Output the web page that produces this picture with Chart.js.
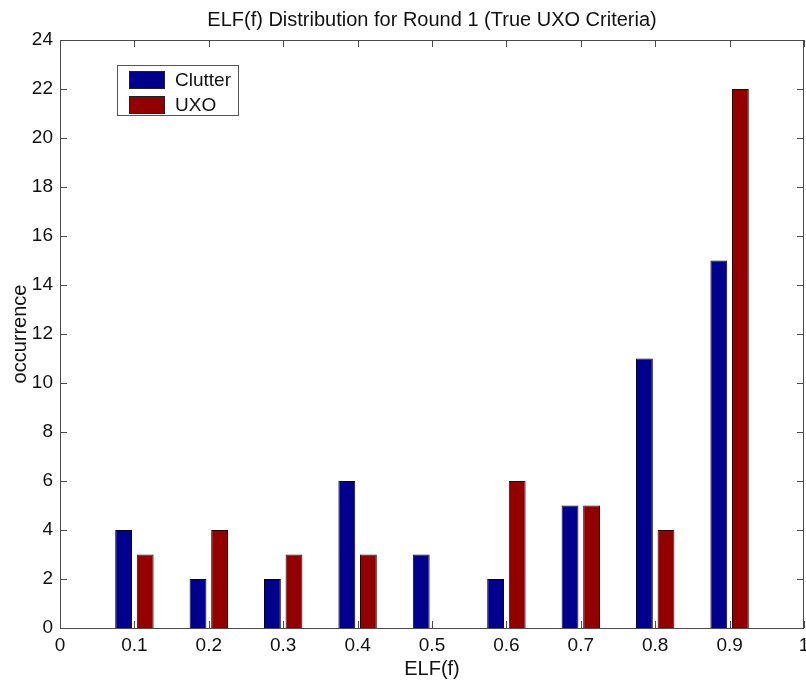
<!DOCTYPE html>
<html>
<head>
<meta charset="utf-8">
<script src="https://cdn.jsdelivr.net/npm/chart.js@4"></script>
<style>
  html, body { margin: 0; padding: 0; background: #fff; }
  #wrap { width: 806px; height: 681px; }
</style>
</head>
<body>
<div id="wrap"><canvas id="elfChart" width="806" height="681"></canvas></div>
<script>
// bin centres and counts
const elfBins = [0.1, 0.2, 0.3, 0.4, 0.5, 0.6, 0.7, 0.8, 0.9];
const clutterCounts = [4, 2, 2, 6, 3, 2, 5, 11, 15];
const uxoCounts = [3, 4, 3, 3, 0, 6, 5, 4, 22];
const xTickValues = [0, 0.1, 0.2, 0.3, 0.4, 0.5, 0.6, 0.7, 0.8, 0.9, 1];
const yTickValues = [0, 2, 4, 6, 8, 10, 12, 14, 16, 18, 20, 22, 24];

const FONT = 'Arial, "Liberation Sans", Helvetica, sans-serif';
const AXIS_COLOR = '#4a4a4a';

// box around the plot + inward ticks on all four sides (matlab style)
const boxTicks = {
    id: 'boxTicks',
    afterDatasetsDraw(chart) {
        const { ctx, chartArea: a, scales } = chart;
        const len = 7;
        ctx.save();
        ctx.strokeStyle = AXIS_COLOR;
        ctx.lineWidth = 1;
        ctx.strokeRect(a.left + 0.5, a.top + 0.5, a.right - a.left - 1, a.bottom - a.top);
        ctx.beginPath();
        scales.x.ticks.forEach(t => {
            const px = Math.round(scales.x.getPixelForValue(t.value)) + 0.5;
            ctx.moveTo(px, a.bottom); ctx.lineTo(px, a.bottom - len);
            ctx.moveTo(px, a.top); ctx.lineTo(px, a.top + len);
        });
        scales.y.ticks.forEach(t => {
            const py = Math.round(scales.y.getPixelForValue(t.value)) + 0.5;
            ctx.moveTo(a.left, py); ctx.lineTo(a.left + len, py);
            ctx.moveTo(a.right, py); ctx.lineTo(a.right - len, py);
        });
        ctx.stroke();
        ctx.restore();
    }
};

// legend box inside the plot, upper left
const insideLegend = {
    id: 'insideLegend',
    afterDraw(chart) {
        const { ctx, chartArea: a } = chart;
        const x0 = a.left + 57, y0 = a.top + 25;
        ctx.save();
        ctx.fillStyle = '#fff';
        ctx.fillRect(x0, y0, 121, 50);
        ctx.strokeStyle = '#555';
        ctx.lineWidth = 1;
        ctx.strokeRect(x0 + 0.5, y0 + 0.5, 121, 50);
        ctx.font = '19px ' + FONT;
        ctx.textBaseline = 'middle';
        chart.data.datasets.forEach((ds, i) => {
            const ry = y0 + 6 + i * 25;
            ctx.fillStyle = ds.backgroundColor;
            ctx.fillRect(x0 + 12, ry, 35, 17);
            ctx.strokeStyle = '#222';
            ctx.strokeRect(x0 + 12.5, ry + 0.5, 35, 17);
            ctx.fillStyle = '#111';
            ctx.fillText(ds.label, x0 + 58, ry + 10);
        });
        ctx.restore();
    }
};

const ctx = document.getElementById('elfChart').getContext('2d');
const elfChart = new Chart(ctx, {
    type: 'bar',
    data: {
        datasets: [{
            label: 'Clutter',
            data: elfBins.map((x, i) => ({ x: x, y: clutterCounts[i] })),
            backgroundColor: '#00008c',
            borderColor: '#000033',
            borderWidth: 1,
        }, {
            label: 'UXO',
            data: elfBins.map((x, i) => ({ x: x, y: uxoCounts[i] })),
            backgroundColor: '#920000',
            borderColor: '#330000',
            borderWidth: 1,
        }]
    },
    options: {
        responsive: false,
        animation: false,
        categoryPercentage: 0.58,
        barPercentage: 0.78,
        layout: { padding: { left: 0, right: 2, top: 0, bottom: 0 } },
        plugins: {
            legend: { display: false },
            tooltip: { enabled: false },
            title: {
                display: true,
                fullSize: false,
                text: 'ELF(f) Distribution for Round 1 (True UXO Criteria)',
                color: '#111',
                font: { family: FONT, size: 20, weight: 'normal' },
                padding: { top: 8, bottom: 8 }
            }
        },
        scales: {
            x: {
                type: 'linear',
                min: 0,
                max: 1,
                offset: false,
                afterBuildTicks: s => { s.ticks = xTickValues.map(v => ({ value: v })); },
                afterFit: s => { s.height = 53; s.paddingLeft = 0; s.paddingRight = 0; },
                grid: { display: false, drawTicks: false },
                border: { display: false },
                ticks: {
                    color: '#111',
                    padding: 6,
                    maxRotation: 0,
                    autoSkip: false,
                    font: { family: FONT, size: 19 },
                    callback: v => String(Number(v.toFixed(1)))
                },
                title: {
                    display: true,
                    text: 'ELF(f)',
                    color: '#111',
                    padding: { top: 0, bottom: 0 },
                    font: { family: FONT, size: 20 }
                }
            },
            y: {
                min: 0,
                max: 24,
                afterBuildTicks: s => { s.ticks = yTickValues.map(v => ({ value: v })); },
                afterFit: s => { s.width = 60; },
                grid: { display: false, drawTicks: false },
                border: { display: false },
                ticks: {
                    color: '#111',
                    padding: 7,
                    autoSkip: false,
                    font: { family: FONT, size: 19 }
                },
                title: {
                    display: true,
                    text: 'occurrence',
                    color: '#111',
                    padding: { top: 8, bottom: 0 },
                    font: { family: FONT, size: 20 }
                }
            }
        }
    },
    plugins: [boxTicks, insideLegend]
});
</script>
</body>
</html>
